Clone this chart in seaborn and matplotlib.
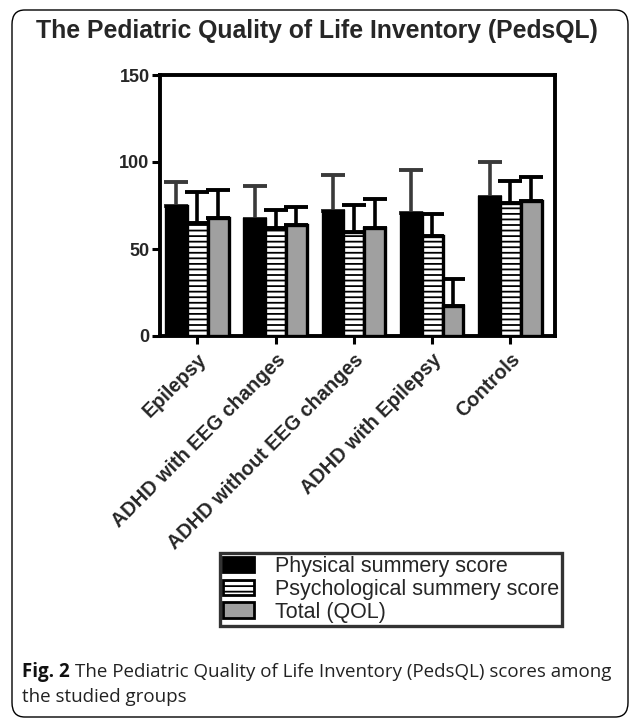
import matplotlib
matplotlib.use("Agg")
import matplotlib.pyplot as plt
import seaborn as sns
import pandas as pd
import numpy as np
from matplotlib.patches import FancyBboxPatch, Patch
from matplotlib.container import BarContainer

groups = ["Epilepsy", "ADHD with EEG changes", "ADHD without EEG changes",
          "ADHD with Epilepsy", "Controls"]
series = ["Physical summery score", "Psychological summery score", "Total (QOL)"]
physical = [74.6, 67.1, 71.7, 70.8, 80.0]
psychological = [64.7, 61.8, 59.8, 57.5, 76.5]
total = [67.9, 63.7, 62.3, 17.1, 77.3]
physical_err_top = [88.6, 86.0, 92.5, 95.3, 99.9]
psychological_err_top = [82.7, 72.3, 75.2, 70.0, 89.0]
total_err_top = [83.8, 74.2, 78.5, 32.6, 91.5]

means = [physical, psychological, total]
tops = [physical_err_top, psychological_err_top, total_err_top]
rows = []
for s, vals in zip(series, means):
    for g, v in zip(groups, vals):
        rows.append({"group": g, "series": s, "value": v})
df = pd.DataFrame(rows)

sns.set_theme(style="white")
plt.rcParams['font.family'] = ['Liberation Sans', 'DejaVu Sans']
plt.rcParams['hatch.linewidth'] = 1.3

fig = plt.figure(figsize=(6.34, 7.22), dpi=100)
W, H = 634, 722
ax = fig.add_axes([160 / W, 1 - 336 / H, 395 / W, 261 / H])

colors = ["#000000", "#ffffff", "#a0a0a0"]
sns.barplot(data=df, x="group", y="value", hue="series", palette=colors,
            order=groups, hue_order=series, errorbar=None, width=0.8,
            edgecolor="black", linewidth=2.4, ax=ax, legend=False, zorder=3)

bar_conts = [c for c in list(ax.containers) if isinstance(c, BarContainer)]
for bar in bar_conts[1]:
    bar.set_hatch("---")
for ci, cont in enumerate(bar_conts):
    xs = [b.get_x() + b.get_width() / 2 for b in cont]
    hs = [b.get_height() for b in cont]
    err = [t - h for t, h in zip(tops[ci], hs)]
    col = "#3a3a3a" if ci == 0 else "black"
    ax.errorbar(xs, hs, yerr=[np.zeros(len(err)), err], fmt="none",
                ecolor=col, elinewidth=2.6, capsize=8.5, capthick=2.8, zorder=2)

ax.set_ylim(0, 150)
ax.set_xlim(-0.476, 4.57)
ax.set_yticks([0, 50, 100, 150])
ax.set_xlabel("")
ax.set_ylabel("")
for sp in ax.spines.values():
    sp.set_linewidth(2.8)
    sp.set_color("black")
ax.tick_params(axis="y", which="both", length=6, width=2.2, color="black",
               left=True, pad=1.5)
ax.tick_params(axis="x", which="both", length=6, width=2.2, color="black",
               bottom=True, pad=4)
ax.set_yticklabels(["0", "50", "100", "150"], fontsize=13, fontweight="bold")
ax.set_xticklabels(groups, rotation=45, ha="right", rotation_mode="anchor",
                   fontsize=14.3, fontweight="bold")

# title
fig.text(0.5, 1 - 31 / H, "The Pediatric Quality of Life Inventory (PedsQL)",
         ha="center", va="center", fontsize=17.8, fontweight="bold")

# legend
handles = [Patch(facecolor=colors[0], edgecolor="black", linewidth=2.0),
           Patch(facecolor=colors[1], edgecolor="black", linewidth=2.0, hatch="---"),
           Patch(facecolor=colors[2], edgecolor="black", linewidth=2.0)]
leg = fig.legend(handles, series, loc="upper left",
                 bbox_to_anchor=(220 / W, 1 - 553 / H), fontsize=15.5,
                 frameon=True, fancybox=False, edgecolor="black",
                 handlelength=1.45, handleheight=0.72, handletextpad=0.95,
                 borderpad=0.15, labelspacing=0.08, borderaxespad=0)
leg.get_frame().set_linewidth(2.4)

# caption
fig.canvas.draw()
renderer = fig.canvas.get_renderer()
t1 = fig.text(22 / W, 1 - 672 / H, "Fig. 2", ha="left", va="center",
              fontsize=13.5, family="Open Sans", fontweight="bold", color="#111111")
bb = t1.get_window_extent(renderer=renderer)
fig.text((bb.x1 + 5) / W, 1 - 672 / H,
         "The Pediatric Quality of Life Inventory (PedsQL) scores among",
         ha="left", va="center", fontsize=13.5, family="Open Sans", color="#222222")
fig.text(22 / W, 1 - 697 / H, "the studied groups", ha="left", va="center",
         fontsize=13.5, family="Open Sans", color="#222222")

# outer rounded border
border = FancyBboxPatch((12 / W, 5 / H), 616 / W, 707 / H,
                        boxstyle="round,pad=0,rounding_size=0.02",
                        transform=fig.transFigure, facecolor="none",
                        edgecolor="black", linewidth=1.0)
fig.patches.append(border)

fig.savefig("out.png", dpi=100)
